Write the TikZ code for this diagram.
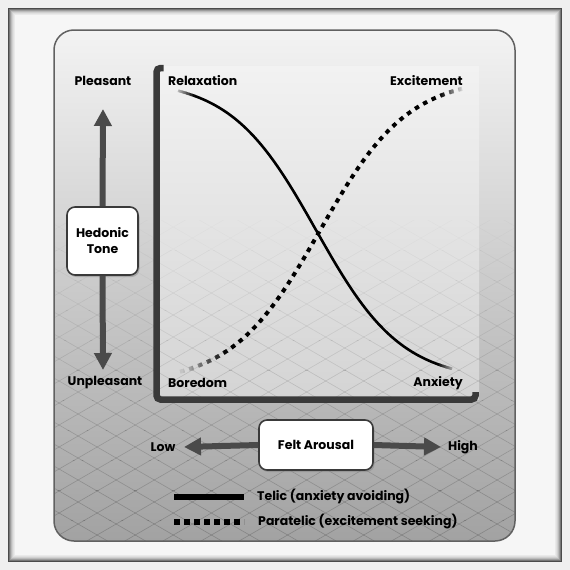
\documentclass[tikz,border=0pt]{standalone}
\usepackage{fontspec}
\setmainfont{Poppins}
\usetikzlibrary{arrows.meta,shadows}
\definecolor{axisgray}{HTML}{3A3A3A}
\definecolor{arrowgray}{HTML}{4A4A4A}
\definecolor{outerbg}{HTML}{EFEFEF}
\definecolor{innerbg}{HTML}{F6F6F6}
\definecolor{paneltop}{HTML}{F3F3F3}
\definecolor{panelbot}{HTML}{A2A2A2}
\definecolor{plottop}{HTML}{F2F2F2}
\definecolor{plotbot}{HTML}{D4D4D4}

\newcommand\telicplot[1]{\draw[#1] plot[domain=178:452,samples=160] (\x,{230+139*tanh(1.6*(\x-316)/137)/0.9217});}
\newcommand\paraplot[1]{\draw[#1] plot[domain=180:462,samples=160] (\x,{230.5-141.5*tanh(1.6*(\x-320)/141)/0.9217});}
\newcommand\fadeclip[5]{%
  \foreach \i in {0,...,11}{%
    \pgfmathsetmacro\xa{#1+(#2-#1)*\i/12}%
    \pgfmathsetmacro\xb{#1+(#2-#1)*(\i+1)/12}%
    \pgfmathsetmacro\pc{#3+(#4-#3)*(\i+0.5)/12}%
    \begin{scope}\clip (\xa-0.3,0) rectangle (\xb+0.3,570); \colorlet{fc}{black!\pc!white}#5\end{scope}%
  }}

\begin{document}
\begin{tikzpicture}[x=1pt,y=-1pt,
  lbl/.style={font=\bfseries\fontsize{12.5}{14}\selectfont, text=black, inner sep=0pt},
  box/.style={draw=axisgray, line width=1.6pt, fill=white, rounded corners=8pt,
    align=center, inner sep=0pt, font=\bfseries\fontsize{12.5}{16}\selectfont,
    drop shadow={shadow xshift=1.5pt,shadow yshift=-2pt,opacity=0.45}},
  arr/.style={draw=arrowgray, line width=6pt, -{Triangle[length=17pt,width=17pt]}},
  telicline/.style={line width=2.6pt, line cap=butt},
  paraline/.style={line width=4pt, dash pattern=on 4.5pt off 5pt, line cap=butt},
  gridline/.style={draw=black, line width=0.6pt}
  ]
\useasboundingbox (0,0) rectangle (570,570);
% outer frame
\fill[outerbg] (0,0) rectangle (570,570);
\fill[innerbg] (8,8) rectangle (562,562);
\foreach \i/\c in {0/70,1/52,2/36,3/24,4/15,5/9,6/5}
  \draw[black!\c!innerbg, line width=1pt] (8.5+\i,8.5+\i) rectangle (561.5-\i,561.5-\i);
% panel
\shade[top color=paneltop, bottom color=panelbot, rounded corners=20pt] (54,30) rectangle (515,541);
% plot area
\shade[top color=plottop, bottom color=plotbot] (158,66) rectangle (479,399);
% grid
\begin{scope}
  \clip[rounded corners=20pt] (54,30) rectangle (515,541);
  \foreach \ya/\op in {220/0.02,250/0.04,280/0.06,310/0.08,340/0.1,370/0.12,400/0.14,430/0.16,460/0.17,490/0.18,520/0.18}{
    \begin{scope}
      \clip (0,\ya) rectangle (570,\ya+30.5);
      \foreach \c in {-290,-268,...,540} \draw[gridline, opacity=\op] (40,\c) -- (530,\c+283);
      \foreach \c in {40,62,...,870} \draw[gridline, opacity=\op] (40,\c) -- (530,\c-283);
    \end{scope}
  }
\end{scope}
\draw[axisgray!80, line width=1.5pt, rounded corners=20pt] (54,30) rectangle (515,541);
% axes
\draw[axisgray, line width=6.5pt, rounded corners=4pt] (163.5,68) -- (156.5,68) -- (156.5,399.5) -- (475.5,399.5) -- (475.5,392);
% curves
\begin{scope}\clip (194.5,0) rectangle (438.5,570); \telicplot{telicline,black} \end{scope}
\fadeclip{178}{195}{25}{100}{\telicplot{telicline,fc}}
\fadeclip{438}{453}{100}{35}{\telicplot{telicline,fc}}
\begin{scope}\clip (227.5,0) rectangle (440.5,570); \paraplot{paraline,black} \end{scope}
\fadeclip{180}{228}{20}{100}{\paraplot{paraline,fc}}
\fadeclip{440}{463}{100}{15}{\paraplot{paraline,fc}}
% labels
\node[lbl] (pleasant) at (103,81) {Pleasant};
\node[lbl] (unpleasant) at (105,383) {Unpleasant};
\node[lbl, anchor=mid west] (relax) at (168,83) {Relaxation};
\node[lbl, anchor=mid east] (excite) at (463,83) {Excitement};
\node[lbl, anchor=mid west] (bored) at (168,385) {Boredom};
\node[lbl, anchor=mid east] (anx) at (463,384) {Anxiety};
\node[lbl] (low) at (163,447) {Low};
\node[lbl] (high) at (463,447) {High};
% boxes
\node[box, minimum width=71pt, minimum height=68pt] (hed) at (102.5,241) {Hedonic\\Tone};
\node[box, minimum width=114pt, minimum height=50pt] (felt) at (316,445) {Felt Arousal};
% arrows
\coordinate (ptop) at (103,109);
\coordinate (pbot) at (103,370);
\coordinate (lowtip) at (184,447);
\coordinate (hightip) at (441,447);
\draw[arr] (hed.north) -- (ptop);
\draw[arr] (hed.south) -- (pbot);
\draw[arr] (felt.west) -- (lowtip);
\draw[arr] (felt.east) -- (hightip);
% legend
\coordinate (l1a) at (174,497); \coordinate (l1b) at (244,497);
\coordinate (l2a) at (174,522); \coordinate (l2b) at (244,522);
\draw[line width=5.5pt, black] (l1a) -- (l1b);
\draw[line width=5.5pt, black, dash pattern=on 6pt off 4pt] (l2a) -- (l2b);
\node[lbl, anchor=mid west] (telic) at (257,498) {Telic (anxiety avoiding)};
\node[lbl, anchor=mid west] (para) at (258,523) {Paratelic (excitement seeking)};
\end{tikzpicture}
\end{document}
